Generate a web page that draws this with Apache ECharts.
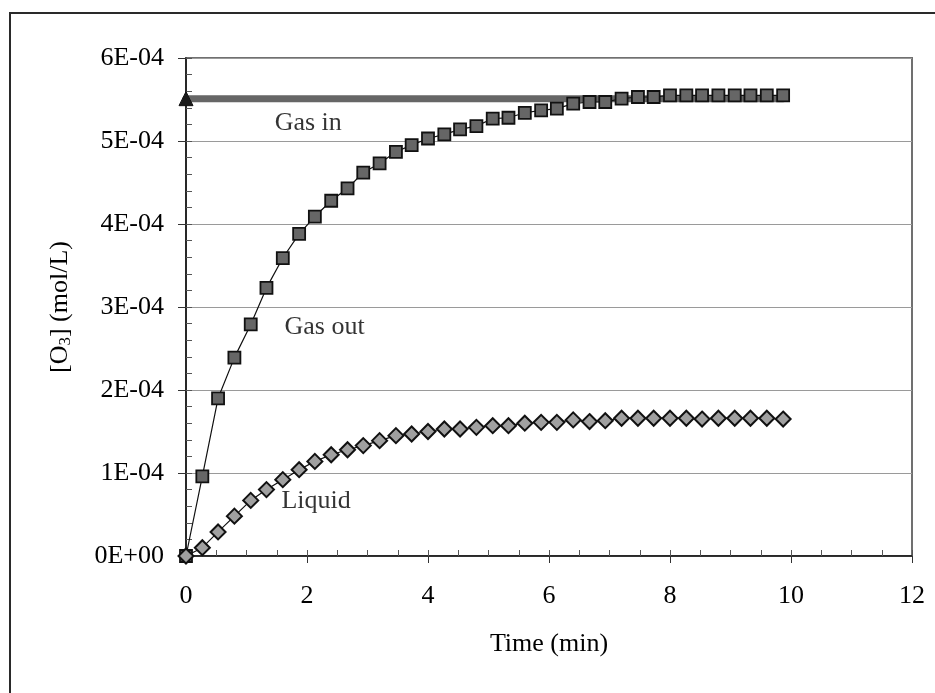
<!DOCTYPE html>
<html>
<head>
<meta charset="utf-8">
<script src="https://cdn.jsdelivr.net/npm/echarts@6/dist/echarts.min.js"></script>
<style>
  html, body { margin: 0; padding: 0; background: #fff; }
  #chart { width: 935px; height: 693px; }
</style>
</head>
<body>
<div id="chart"></div>
<script>
// ---- Data ----
const timeMin = [0, 0.27, 0.53, 0.8, 1.07, 1.33, 1.6, 1.87, 2.13, 2.4, 2.67, 2.93, 3.2, 3.47, 3.73, 4,
  4.27, 4.53, 4.8, 5.07, 5.33, 5.6, 5.87, 6.13, 6.4, 6.67, 6.93, 7.2, 7.47, 7.73, 8, 8.27, 8.53, 8.8,
  9.07, 9.33, 9.6, 9.87];
// values in units of 1E-04 mol/L
const gasOut = [0, 0.96, 1.90, 2.39, 2.79, 3.23, 3.59, 3.88, 4.09, 4.28, 4.43, 4.62, 4.73, 4.87, 4.95,
  5.03, 5.08, 5.14, 5.18, 5.27, 5.28, 5.34, 5.37, 5.39, 5.45, 5.47, 5.47, 5.51, 5.53, 5.53,
  5.55, 5.55, 5.55, 5.55, 5.55, 5.55, 5.55, 5.55];
const liquid = [0, 0.10, 0.29, 0.48, 0.67, 0.80, 0.92, 1.04, 1.14, 1.22, 1.28, 1.33, 1.39, 1.45, 1.47,
  1.50, 1.53, 1.53, 1.55, 1.57, 1.57, 1.60, 1.61, 1.61, 1.64, 1.62, 1.63, 1.66, 1.66, 1.66,
  1.66, 1.66, 1.65, 1.66, 1.66, 1.66, 1.66, 1.65];
const gasInTime = [0, 9.87];
const gasIn = [5.51, 5.51];
const yTickLabels = ['0E+00', '1E-04', '2E-04', '3E-04', '4E-04', '5E-04', '6E-04'];
const xTickLabels = ['0', '2', '4', '6', '8', '10', '12'];
const seriesNames = ['Gas in', 'Gas out', 'Liquid'];
const UNIT = 1e-4;

const pair = (xs, ys) => xs.map((x, i) => [x, ys[i] * UNIT]);

const FONT = "'Liberation Serif', 'Times New Roman', serif";

const chart = echarts.init(document.getElementById('chart'), null, { renderer: 'canvas' });

const option = {
  animation: false,
  backgroundColor: '#ffffff',
  textStyle: { fontFamily: FONT, color: '#000' },
  graphic: [{
    type: 'rect',
    shape: { x: 10, y: 13, width: 940, height: 700 },
    style: { fill: 'none', stroke: '#2a2a2a', lineWidth: 2 },
    silent: true,
    z: 0
  }],
  grid: {
    left: 186, right: 23, top: 58, bottom: 137,
    show: true, borderColor: '#707070', borderWidth: 2, backgroundColor: 'transparent'
  },
  xAxis: [{
    type: 'value', min: 0, max: 12, interval: 2, position: 'bottom',
    name: 'Time (min)', nameLocation: 'middle', nameGap: 75,
    nameTextStyle: { fontFamily: FONT, fontSize: 26, color: '#000' },
    axisLine: { show: true, lineStyle: { color: '#111', width: 1.5 } },
    axisTick: { show: true, inside: false, length: 7, lineStyle: { color: '#333' } },
    axisLabel: {
      margin: 27, fontFamily: FONT, fontSize: 26, color: '#000',
      formatter: v => xTickLabels[Math.round(v / 2)]
    },
    splitLine: { show: false }
  }, {
    type: 'value', min: 0, max: 12, interval: 0.5, position: 'bottom',
    axisLine: { show: false },
    axisTick: { show: true, inside: true, length: 6, lineStyle: { color: '#555' } },
    axisLabel: { show: false },
    splitLine: { show: false }
  }],
  yAxis: [{
    type: 'value', min: 0, max: 6 * UNIT, interval: UNIT, position: 'left',
    name: '[O{sub|3}] (mol/L)', nameLocation: 'middle', nameGap: 112, nameRotate: 90,
    nameTextStyle: {
      fontFamily: FONT, fontSize: 26, color: '#000',
      rich: { sub: { fontFamily: FONT, fontSize: 17, color: '#000', verticalAlign: 'bottom', padding: [10, 0, 0, 0] } }
    },
    axisLine: { show: true, lineStyle: { color: '#111', width: 1.5 } },
    axisTick: { show: true, inside: false, length: 8, lineStyle: { color: '#333' } },
    axisLabel: {
      margin: 22, fontFamily: FONT, fontSize: 26, color: '#000',
      formatter: v => yTickLabels[Math.round(v / UNIT)]
    },
    splitLine: { show: true, lineStyle: { color: '#9a9a9a', width: 1 } }
  }, {
    type: 'value', min: 0, max: 6 * UNIT, interval: 0.2 * UNIT, position: 'left',
    axisLine: { show: false },
    axisTick: { show: true, inside: true, length: 6, lineStyle: { color: '#555' } },
    axisLabel: { show: false },
    splitLine: { show: false }
  }],
  series: [
    {
      name: seriesNames[0], type: 'line', xAxisIndex: 0, yAxisIndex: 0,
      data: pair(gasInTime, gasIn),
      lineStyle: { color: '#666666', width: 7, cap: 'round' },
      symbol: (val, params) => params.dataIndex === 0 ? 'triangle' : 'none',
      symbolSize: 14,
      itemStyle: { color: '#1a1a1a', borderColor: '#111', borderWidth: 1 },
      z: 3
    },
    {
      name: seriesNames[1], type: 'line', xAxisIndex: 0, yAxisIndex: 0,
      data: pair(timeMin, gasOut),
      lineStyle: { color: '#111', width: 1.2 },
      symbol: 'rect', symbolSize: 12,
      itemStyle: { color: '#666666', borderColor: '#111', borderWidth: 1.8 },
      z: 4
    },
    {
      name: seriesNames[2], type: 'line', xAxisIndex: 0, yAxisIndex: 0,
      data: pair(timeMin, liquid),
      lineStyle: { color: '#111', width: 1.2 },
      symbol: 'diamond', symbolSize: 15,
      itemStyle: { color: '#a0a0a0', borderColor: '#111', borderWidth: 2 },
      z: 4
    },
    {
      type: 'scatter', xAxisIndex: 0, yAxisIndex: 0,
      symbolSize: 0, silent: true, z: 5,
      data: [
        [2.02, 5.22 * UNIT, seriesNames[0]],
        [2.29, 2.76 * UNIT, seriesNames[1]],
        [2.15, 0.665 * UNIT, seriesNames[2]]
      ],
      label: {
        show: true, position: 'inside', formatter: p => p.data[2],
        fontFamily: FONT, fontSize: 26, color: '#000'
      }
    }
  ]
};

chart.setOption(option);
</script>
</body>
</html>
